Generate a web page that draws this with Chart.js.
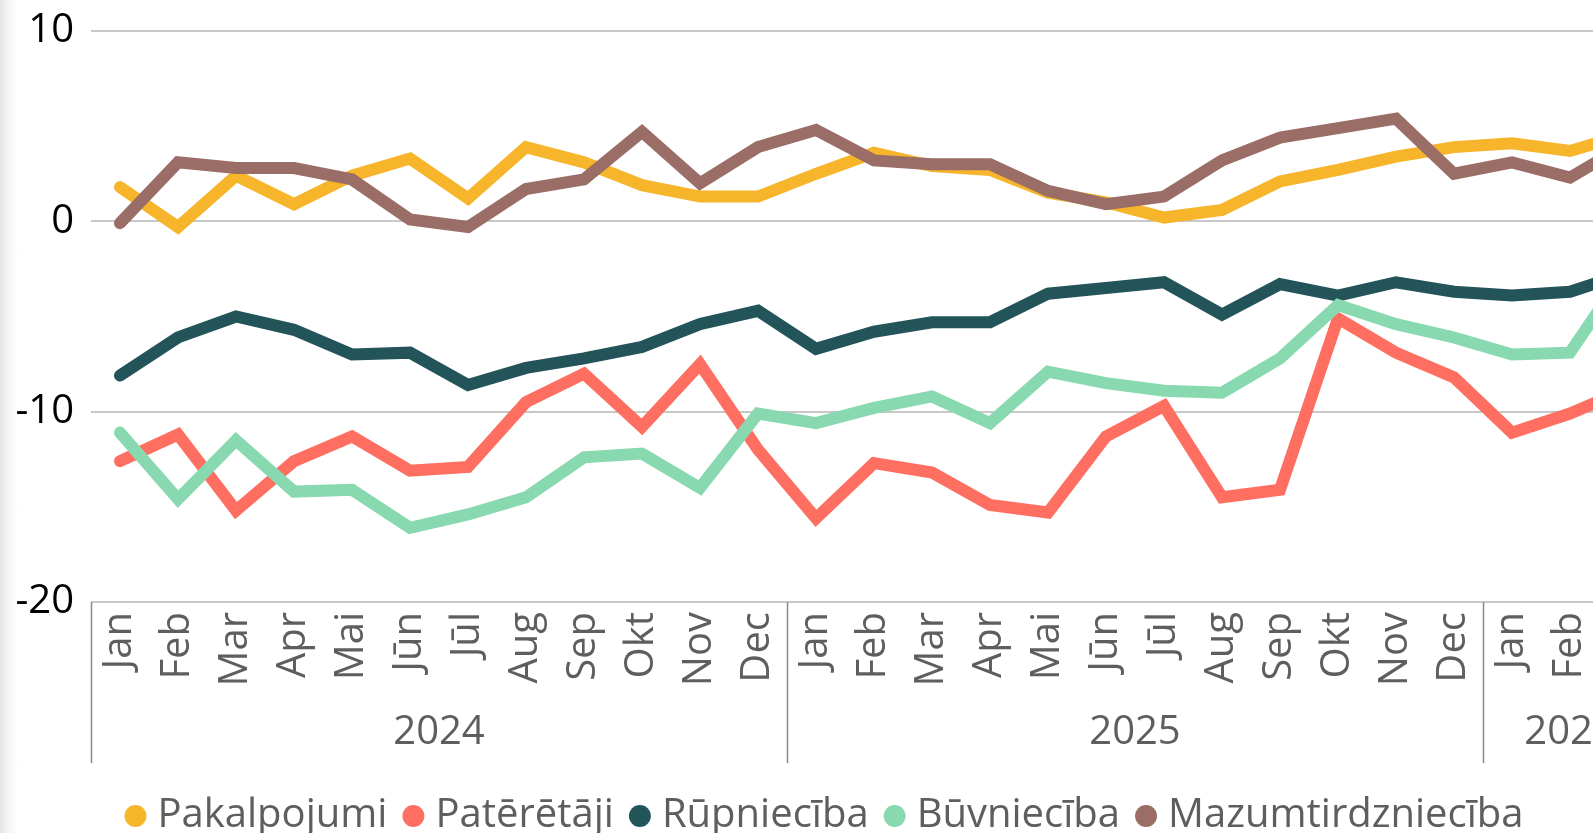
<!DOCTYPE html>
<html>
<head>
<meta charset="utf-8">
<script src="https://cdn.jsdelivr.net/npm/chart.js@4/dist/chart.umd.min.js"></script>
<style>
  html, body { margin: 0; padding: 0; width: 1593px; height: 833px; overflow: hidden;
    background: linear-gradient(to right, #e4e4e4 0px, #f3f3f3 7px, #ffffff 18px); }
  #wrap { position: absolute; left: 0; top: 0; width: 1657px; height: 846px; }
</style>
</head>
<body>
<div id="wrap"><canvas id="body-chart"></canvas></div>
<script>
var months = ['Jan','Feb','Mar','Apr','Mai','Jūn','Jūl','Aug','Sep','Okt','Nov','Dec',
              'Jan','Feb','Mar','Apr','Mai','Jūn','Jūl','Aug','Sep','Okt','Nov','Dec',
              'Jan','Feb','Mar'];
var years = ['2024','2024','2024','2024','2024','2024','2024','2024','2024','2024','2024','2024',
             '2025','2025','2025','2025','2025','2025','2025','2025','2025','2025','2025','2025',
             '2026','2026','2026'];

var pakalpojumi = [1.8,-0.3,2.4,0.9,2.4,3.3,1.2,3.9,3.1,1.9,1.3,1.3,2.5,3.6,2.9,2.7,1.5,1.0,0.2,0.6,2.1,2.7,3.4,3.9,4.1,3.7,4.6];
var pateretaji = [-12.6,-11.2,-15.2,-12.6,-11.3,-13.1,-12.9,-9.5,-8.0,-10.8,-7.5,-12.0,-15.6,-12.7,-13.2,-14.9,-15.3,-11.3,-9.7,-14.5,-14.1,-5.1,-6.9,-8.2,-11.1,-10.1,-8.8];
var rupnieciba = [-8.1,-6.1,-5.0,-5.7,-7.0,-6.9,-8.6,-7.7,-7.2,-6.6,-5.4,-4.7,-6.7,-5.8,-5.3,-5.3,-3.8,-3.5,-3.2,-4.9,-3.3,-3.9,-3.2,-3.7,-3.9,-3.7,-2.7];
var buvnieciba = [-11.1,-14.6,-11.5,-14.2,-14.1,-16.1,-15.4,-14.5,-12.4,-12.2,-14.0,-10.1,-10.6,-9.8,-9.2,-10.6,-7.9,-8.5,-8.9,-9.0,-7.2,-4.4,-5.4,-6.1,-7.0,-6.9,-2.4];
var mazumtirdznieciba = [-0.1,3.1,2.8,2.8,2.2,0.1,-0.3,1.7,2.2,4.7,2.0,3.9,4.8,3.2,3.0,3.0,1.6,0.9,1.3,3.2,4.4,4.9,5.4,2.5,3.1,2.3,4.1];

var names = ['Pakalpojumi','Patērētāji','Rūpniecība','Būvniecība','Mazumtirdzniecība'];
var color = ['#F7B52C','#FF6F61','#23545A','#88D9B0','#9A6E66'];
var values = [pakalpojumi, pateretaji, rupnieciba, buvnieciba, mazumtirdznieciba];

var fontName = '"Open Sans", "Noto Sans", sans-serif';
var fontSize = 40;
var grayText = '#605E5C';

// year row under the month labels, with separator lines
var yearRow = {
  id: 'yearRow',
  afterDraw: function(chart) {
    var ctx = chart.ctx;
    var sx = chart.scales.x;
    var half = (sx.getPixelForValue(1) - sx.getPixelForValue(0)) / 2;
    var top = chart.chartArea.bottom;
    var bottom = top + 161;
    ctx.save();
    ctx.strokeStyle = '#8a8a8a';
    ctx.lineWidth = 1.5;
    ctx.fillStyle = grayText;
    ctx.font = fontSize + 'px ' + fontName;
    ctx.textAlign = 'center';
    ctx.textBaseline = 'middle';
    var start = 0;
    for (var i = 1; i <= years.length; i++) {
      if (i == years.length || years[i] != years[start]) {
        var x0 = sx.getPixelForValue(start) - half;
        var x1 = sx.getPixelForValue(i - 1) + half;
        ctx.beginPath();
        ctx.moveTo(Math.round(x0) + 0.5, top);
        ctx.lineTo(Math.round(x0) + 0.5, bottom);
        ctx.stroke();
        ctx.fillText(years[start], (x0 + x1) / 2, top + 131);
        start = i;
      }
    }
    ctx.restore();
  }
};

var datasets = [];
for (var d = 0; d < names.length; d++) {
  datasets.push({
    label: names[d],
    data: values[d],
    borderColor: color[d],
    backgroundColor: color[d],
    pointBackgroundColor: color[d],
    pointBorderWidth: 0,
    pointRadius: 0,
    borderWidth: 12,
    borderCapStyle: 'round',
    tension: 0,
    order: names.length - d
  });
}

var chart = new Chart(document.getElementById('body-chart'), {
  type: 'line',
  data: { labels: months, datasets: datasets },
  options: {
    responsive: true,
    maintainAspectRatio: false,
    animation: false,
    layout: { padding: { top: 31, left: 0, right: 0, bottom: 0 } },
    plugins: {
      tooltip: { enabled: false },
      legend: {
        position: 'bottom',
        labels: {
          usePointStyle: true,
          pointStyle: 'circle',
          boxWidth: 4,
          boxHeight: 15.5,
          padding: 24,
          color: grayText,
          font: { family: fontName, size: fontSize },
          sort: function(a, b) { return a.datasetIndex - b.datasetIndex; }
        }
      }
    },
    scales: {
      x: {
        offset: true,
        grid: { display: false, drawTicks: false },
        border: { display: false },
        ticks: {
          autoSkip: false, maxRotation: 90, minRotation: 90, padding: 10,
          color: grayText, font: { family: fontName, size: fontSize }
        },
        afterFit: function(s) { s.height = 170; s.paddingLeft = 0; s.paddingRight = 0; }
      },
      y: {
        min: -20, max: 10,
        ticks: { stepSize: 10, padding: 17, color: '#000000', font: { family: fontName, size: fontSize } },
        grid: { color: '#C8C8C8', lineWidth: 2, drawTicks: false },
        border: { display: false },
        afterFit: function(s) { s.width = 91; s.paddingTop = 0; s.paddingBottom = 0; }
      }
    }
  },
  plugins: [yearRow]
});
</script>
</body>
</html>
